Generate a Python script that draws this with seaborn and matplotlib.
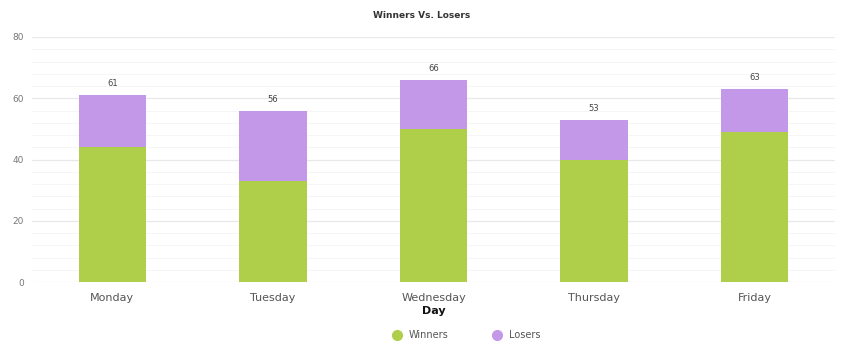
import matplotlib
matplotlib.use("Agg")
import matplotlib.pyplot as plt
import seaborn as sns
import pandas as pd
import numpy as np
from matplotlib.lines import Line2D
from matplotlib.ticker import MultipleLocator

days = ["Monday", "Tuesday", "Wednesday", "Thursday", "Friday"]
winners = [44, 33, 50, 40, 49]
losers = [17, 23, 16, 13, 14]
totals = [w + l for w, l in zip(winners, losers)]

green = "#AFCF4B"
purple = "#C398E8"

sns.set_theme(style="white")
plt.rcParams["font.family"] = ["DejaVu Sans"]

fig = plt.figure(figsize=(8.44, 3.6), dpi=100)
ax = fig.add_axes([32/844, 1-282/360, 803/844, 245/360])

df = pd.DataFrame({"Day": days, "Winners": winners, "Losers": losers})
sns.barplot(data=df, x="Day", y="Winners", color=green, width=0.42, ax=ax,
            saturation=1, linewidth=0)
sns.barplot(data=df, x="Day", y="Losers", color=purple, width=0.42, ax=ax,
            saturation=1, linewidth=0, bottom=df["Winners"].values)

for i, t in enumerate(totals):
    ax.text(i, t + 2.2, str(t), ha="center", va="bottom", fontsize=6, color="#444444")

ax.set_ylim(0, 80)
ax.set_xlim(-0.5, 4.5)
ax.yaxis.set_major_locator(MultipleLocator(20))
ax.yaxis.set_minor_locator(MultipleLocator(4))
ax.grid(axis="y", which="major", color="#e8e8e8", linewidth=0.9)
ax.grid(axis="y", which="minor", color="#f5f5f5", linewidth=0.7)
ax.set_axisbelow(True)
for s in ax.spines.values():
    s.set_visible(False)
ax.tick_params(axis="y", labelsize=6.5, colors="#777777", length=0, pad=6)
ax.tick_params(axis="x", labelsize=8, colors="#555555", length=0, pad=8)
ax.set_ylabel("")
ax.set_xlabel("Day", fontsize=8, fontweight="bold", color="#111111", labelpad=2)

fig.text(0.5, 1-15/360, "Winners Vs. Losers", ha="center", va="center",
         fontsize=6.5, fontweight="bold", color="#333333")

handles = [Line2D([], [], marker="o", linestyle="", markersize=7, color=green, label="Winners"),
           Line2D([], [], marker="o", linestyle="", markersize=7, color=purple, label="Losers")]
leg = fig.legend(handles=handles, loc="center", bbox_to_anchor=(464/844, 1-335/360), ncol=2,
                 frameon=False, fontsize=7, handletextpad=0.2, columnspacing=4.0)
for t in leg.get_texts():
    t.set_color("#555555")

fig.savefig("out.png", dpi=100)
